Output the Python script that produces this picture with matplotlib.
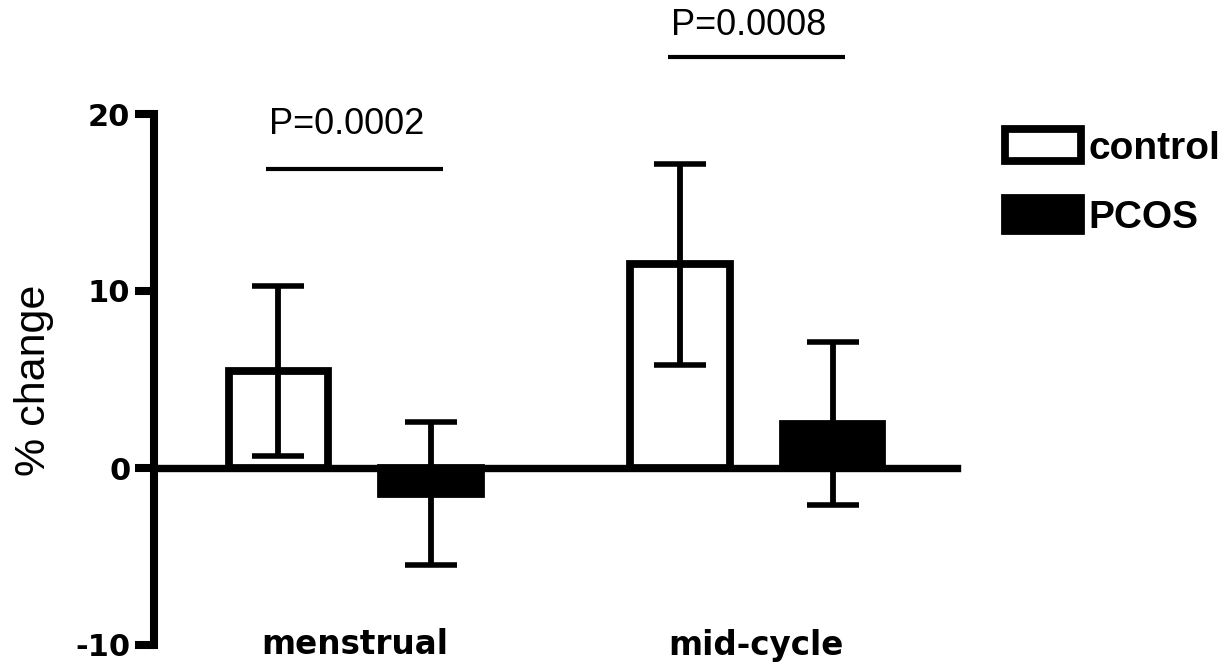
import matplotlib
matplotlib.use("Agg")
import matplotlib.pyplot as plt
import numpy as np

# Percent change per cycle phase (mean and error)
categories = ["menstrual", "mid-cycle"]
group_names = ["control", "PCOS"]
control_mean = [5.5, 11.5]
control_err = [4.8, 5.7]
pcos_mean = [-1.45, 2.5]
pcos_err = [4.05, 4.6]
p_labels = ["P=0.0002", "P=0.0008"]
yticks = [-10, 0, 10, 20]

# layout constants
bar_offset = 0.19
bar_width = 0.248
p_line_y = [16.9, 23.2]
p_text_y = [19.4, 25.0]
p_half = 0.22

W, H = 1229, 664
fig = plt.figure(figsize=(W / 100, H / 100), dpi=100)
ax = fig.add_axes([154 / W, 19 / H, 803 / W, 531 / H])

x = np.arange(len(categories))
edge_lw = 5.6

ctrl = ax.bar(x - bar_offset, control_mean, width=bar_width, facecolor="white",
              edgecolor="black", linewidth=edge_lw, zorder=2, label=group_names[0])
pcos = ax.bar(x + bar_offset, pcos_mean, width=bar_width, facecolor="black",
              edgecolor="black", linewidth=edge_lw, zorder=2, label=group_names[1])

err_kw = dict(fmt="none", ecolor="black", elinewidth=4.2, capsize=18.5,
              capthick=4.0, zorder=3)
ax.errorbar(x - bar_offset, control_mean, yerr=control_err, **err_kw)
ax.errorbar(x + bar_offset, pcos_mean, yerr=pcos_err, **err_kw)

ax.set_xlim(-0.5, 1.5)
ax.set_ylim(-10, 20)

# axes: left spine with ticks, horizontal axis through zero
for s in ["top", "right"]:
    ax.spines[s].set_visible(False)
ax.spines["left"].set_linewidth(5.8)
ax.spines["bottom"].set_linewidth(5.3)
ax.spines["bottom"].set_position(("data", 0))
ax.spines["bottom"].set_zorder(1)
ax.set_xticks([])
ax.set_yticks(yticks)
ax.set_yticklabels([str(t) for t in yticks])
ax.tick_params(axis="y", direction="out", length=14, width=5.8, pad=3)
for lab in ax.get_yticklabels():
    lab.set_fontfamily("DejaVu Sans")
    lab.set_fontweight("heavy")
    lab.set_fontsize(22)

# category labels along the bottom
for xi, name in zip(x, categories):
    ax.text(xi, -10, name, ha="center", va="center", fontsize=23.5,
            fontweight="heavy", family="DejaVu Sans", clip_on=False)

# y-axis label
fig.text(34 / W, 1 - 380 / H, "% change", rotation=90, ha="center", va="center",
         fontsize=31, family="Liberation Sans")

# significance brackets
for xi, lab, ly, ty in zip(x, p_labels, p_line_y, p_text_y):
    ax.plot([xi - p_half, xi + p_half], [ly, ly], color="black", lw=3.0,
            solid_capstyle="butt", clip_on=False)
    ax.text(xi - 0.02, ty, lab, ha="center", va="center", fontsize=26,
            family="Liberation Sans", clip_on=False)

leg = ax.legend(handles=[ctrl, pcos], loc="upper left",
                bbox_to_anchor=(1005 / W, 1 - 129 / H),
                bbox_transform=fig.transFigure, frameon=False,
                prop={"family": "Liberation Sans", "weight": "bold", "size": 28},
                handlelength=1.95, handleheight=0.9, handletextpad=0.2,
                labelspacing=0.82, borderpad=0, borderaxespad=0)

fig.savefig("out.png", dpi=100, facecolor="white")
